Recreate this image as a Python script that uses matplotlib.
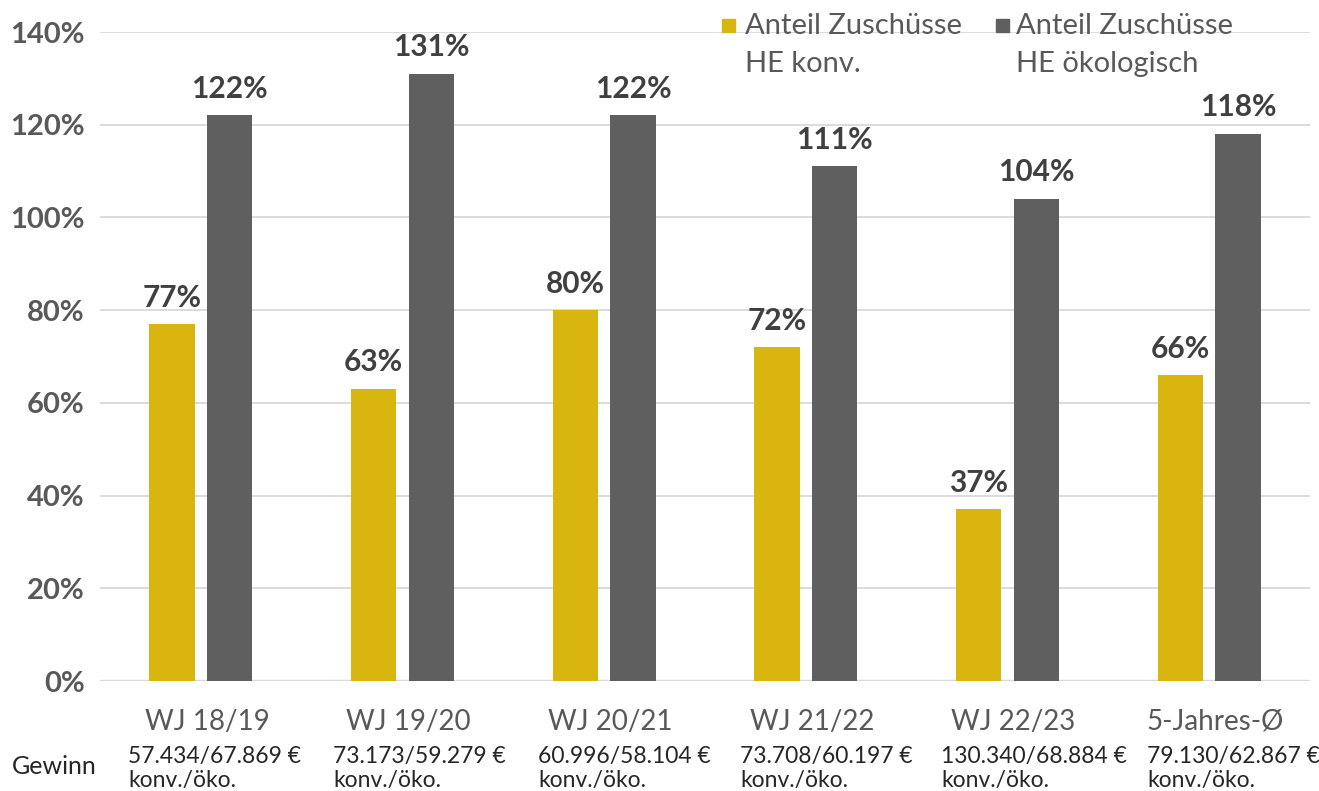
import matplotlib
matplotlib.use("Agg")
import matplotlib.pyplot as plt
import numpy as np
from matplotlib.patches import Rectangle

plt.rcParams['font.family'] = ['Lato', 'DejaVu Sans']

categories = ["WJ 18/19", "WJ 19/20", "WJ 20/21", "WJ 21/22", "WJ 22/23", "5-Jahres-Ø"]
konv = [77, 63, 80, 72, 37, 66]
oeko = [122, 131, 122, 111, 104, 118]
gewinn = ["57.434/67.869 €", "73.173/59.279 €", "60.996/58.104 €",
          "73.708/60.197 €", "130.340/68.884 €", "79.130/62.867 €"]
gewinn_unit = "konv./öko."
series_names = ["Anteil Zuschüsse\nHE konv.", "Anteil Zuschüsse\nHE ökologisch"]
yticks = [0, 20, 40, 60, 80, 100, 120, 140]

YELLOW = "#D9B50F"
GRAY = "#5F5F5F"
TXT = "#595959"
VAL = "#404040"

W, H = 1319, 791
fig = plt.figure(figsize=(W / 100, H / 100), dpi=100)
ax = fig.add_axes([100 / W, 1 - 681 / H, 1210 / W, (681 - 32) / H])

x = np.arange(len(categories))
bw = 0.225
off = 0.143
b1 = ax.bar(x - off, konv, bw, color=YELLOW, zorder=3)
b2 = ax.bar(x + off, oeko, bw, color=GRAY, zorder=3)

for bars, vals in ((b1, konv), (b2, oeko)):
    for r, v in zip(bars, vals):
        ax.annotate(f"{v}%", (r.get_x() + r.get_width() / 2, v), xytext=(0, 9),
                    textcoords="offset points", ha="center", va="bottom",
                    fontsize=21.5, fontweight="bold", color=VAL)

ax.set_xlim(-0.5, len(categories) - 0.5)
ax.set_ylim(0, 140)
ax.set_yticks(yticks)
ax.set_yticklabels([f"{t}%" for t in yticks], fontsize=21, fontweight="bold", color=TXT)
ax.set_xticks(x + 0.03)
ax.set_xticklabels(categories, fontsize=20, color=TXT)
ax.tick_params(axis="both", length=0)
ax.tick_params(axis="y", pad=11)
ax.tick_params(axis="x", pad=20)
ax.grid(axis="y", color="#D9D9D9", linewidth=1.3, zorder=0)
for s in ax.spines.values():
    s.set_visible(False)
ax.axhline(0, color="#D9D9D9", linewidth=2.5, zorder=2)

# Gewinn row
fig.text(12 / W, 1 - 767 / H, "Gewinn", fontsize=18, color="#262626", va="center", ha="left")
gx = [128, 333, 538, 740, 941, 1147]
for px, g in zip(gx, gewinn):
    fig.text(px / W, 1 - 757 / H, g, fontsize=16.5, color="#262626",
             ha="left", va="center")
    fig.text(px / W, 1 - 780 / H, gewinn_unit, fontsize=16.5, color="#262626",
             ha="left", va="center")

# legend
for (lx, tx), col, name in zip(((722, 745), (996, 1016)), (YELLOW, GRAY), series_names):
    fig.patches.append(Rectangle((lx / W, 1 - 32 / H), 13 / W, 13 / H,
                                 transform=fig.transFigure, color=col))
    fig.text(tx / W, 1 - 13 / H, name, fontsize=21, color=TXT, ha="left", va="top",
             linespacing=1.55)

fig.savefig("out.png", dpi=100)
